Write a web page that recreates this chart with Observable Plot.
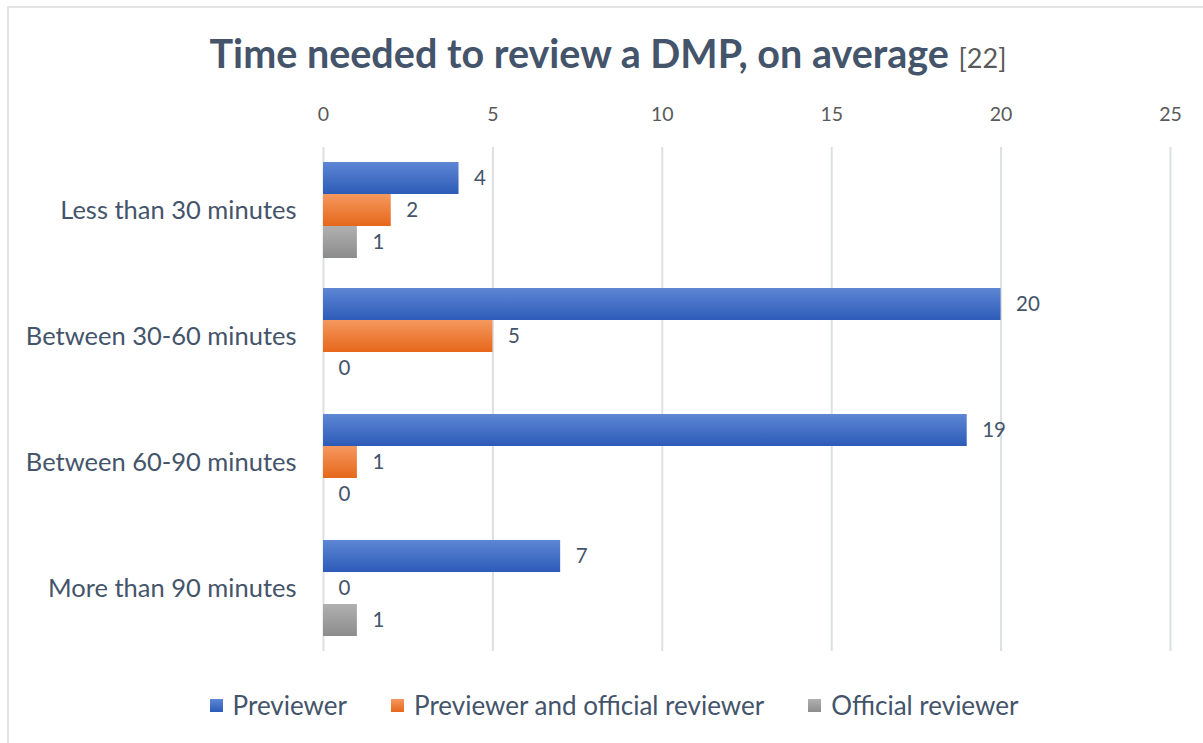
<!DOCTYPE html>
<html>
<head>
<meta charset="utf-8">
<script src="https://cdn.jsdelivr.net/npm/d3@7"></script>
<script src="https://cdn.jsdelivr.net/npm/@observablehq/plot@0.6"></script>
<style>
  html, body { margin: 0; padding: 0; background: #fff; }
  #wrap { position: relative; width: 1203px; height: 743px; overflow: hidden; font-family: Lato, "Open Sans", sans-serif; color: #44546A; }
  #frame { position: absolute; left: 7px; top: 6px; width: 1300px; height: 900px; border-left: 2px solid #E3E3E3; border-top: 2px solid #E3E3E3; box-sizing: border-box; }
  #title { position: absolute; left: 0; width: 1216px; top: 29px; text-align: center; font-weight: 700; font-size: 39.5px; color: #44546A; white-space: nowrap; }
  #title .ref { font-weight: 400; font-size: 27px; color: #595959; }
  #chart { position: absolute; left: 0; top: 0; }
  #legend { position: absolute; left: 0; width: 1228px; top: 689px; display: flex; justify-content: center; gap: 44px; font-size: 26px; color: #44546A; }
  #legend .item { display: flex; align-items: center; }
  #legend .sw { width: 13px; height: 13px; margin-right: 10px; }
  [aria-label^="x-axis"] text { font-size: 19.5px; fill: #595959; }
  [aria-label^="fy-axis"] text { font-size: 25.5px; fill: #44546A; }
</style>
</head>
<body>
<div id="wrap">
  <div id="frame"></div>
  <div id="chart"></div>
  <div id="title">Time needed to review a DMP, on average <span class="ref">[22]</span></div>
  <div id="legend"></div>
</div>
<script>
const categories = ["Less than 30 minutes", "Between 30-60 minutes", "Between 60-90 minutes", "More than 90 minutes"];
const series = ["Previewer", "Previewer and official reviewer", "Official reviewer"];
const previewer = [4, 20, 19, 7];
const previewerAndOfficial = [2, 5, 1, 0];
const officialReviewer = [1, 0, 0, 1];
const xTicks = [0, 5, 10, 15, 20, 25];

const seriesValues = [previewer, previewerAndOfficial, officialReviewer];
const gradIds = ["gBlue", "gOrange", "gGray"];
const gradStops = [["#5E86D4", "#2C5BB8"], ["#F5985F", "#E6671A"], ["#B0B0B0", "#8C8C8C"]];

const rows = [];
categories.forEach((c, i) => series.forEach((s, j) => rows.push({category: c, series: s, value: seriesValues[j][i]})));

const chart = Plot.plot({
  width: 1203,
  height: 743,
  marginTop: 145,
  marginBottom: 91,
  marginLeft: 323,
  marginRight: 33,
  style: {fontFamily: "Lato, 'Open Sans', sans-serif", color: "#44546A", background: "transparent"},
  x: {domain: [0, 25], ticks: xTicks, axis: "top", tickSize: 0, tickPadding: 27, label: null},
  y: {domain: series, paddingInner: 0, paddingOuter: 0.462, axis: null},
  fy: {domain: categories, padding: 0, axis: "left", tickSize: 0, tickPadding: 27, label: null},
  color: {domain: series, range: gradIds.map(id => `url(#${id})`)},
  marks: [
    Plot.ruleX(xTicks, {stroke: "#DCDFE3", strokeWidth: 2}),
    Plot.barX(rows, {x: "value", y: "series", fy: "category", fill: "series"}),
    Plot.text(rows, {x: "value", y: "series", fy: "category", text: d => String(d.value), textAnchor: "start", dx: 15, fontSize: 20.5, fill: "#44546A"})
  ]
});

// gradient definitions
const ns = "http://www.w3.org/2000/svg";
const defs = document.createElementNS(ns, "defs");
gradIds.forEach((id, i) => {
  const g = document.createElementNS(ns, "linearGradient");
  g.setAttribute("id", id);
  g.setAttribute("x1", "0"); g.setAttribute("y1", "0");
  g.setAttribute("x2", "0"); g.setAttribute("y2", "1");
  gradStops[i].forEach((c, k) => {
    const st = document.createElementNS(ns, "stop");
    st.setAttribute("offset", k === 0 ? "0" : "1");
    st.setAttribute("stop-color", c);
    g.appendChild(st);
  });
  defs.appendChild(g);
});
chart.insertBefore(defs, chart.firstChild);
document.getElementById("chart").appendChild(chart);

// legend
const legend = document.getElementById("legend");
series.forEach((s, i) => {
  const item = document.createElement("div");
  item.className = "item";
  const sw = document.createElement("div");
  sw.className = "sw";
  sw.style.background = `linear-gradient(${gradStops[i][0]}, ${gradStops[i][1]})`;
  const t = document.createElement("span");
  t.textContent = s;
  item.appendChild(sw); item.appendChild(t);
  legend.appendChild(item);
});
</script>
</body>
</html>
